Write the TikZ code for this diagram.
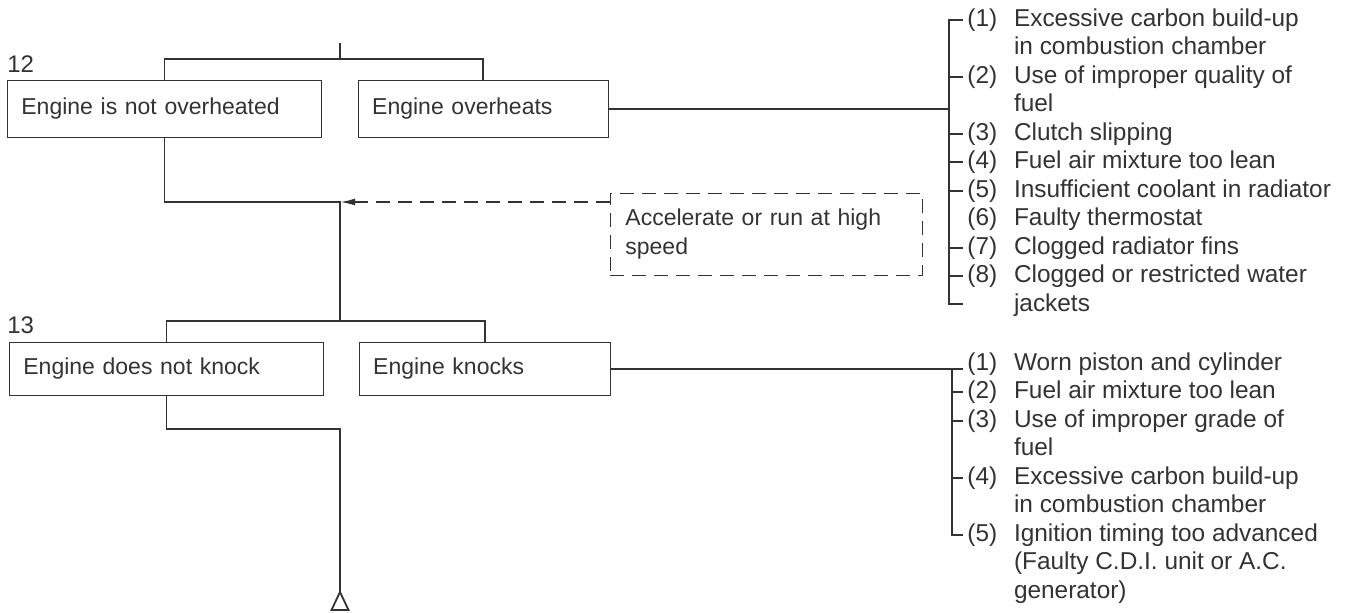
\documentclass[tikz,border=0pt]{standalone}
\usepackage{fontspec}
\setmainfont{Liberation Sans}
\usepackage{tikz}
\usetikzlibrary{arrows.meta, positioning}
\tikzset{
    checkbox/.style={
        rectangle,
        draw,
        align=left,
        inner xsep=7pt,
        inner ysep=0pt,
        minimum height=28.5pt,
        font=\fontsize{11.5pt}{14pt}\selectfont
    },
    actionbox/.style={
        rectangle,
        draw,
        dash pattern=on 7pt off 4pt,
        align=left,
        inner xsep=7.5pt,
        inner ysep=0pt,
        minimum height=41pt,
        font=\fontsize{11.5pt}{14.5pt}\selectfont
    },
    causenum/.style={
        inner sep=2pt,
        anchor=base west,
        font=\fontsize{12.2pt}{14.25pt}\selectfont
    },
    causetext/.style={
        inner sep=2pt,
        align=left,
        font=\fontsize{12.2pt}{14.25pt}\selectfont
    },
    testnum/.style={
        inner sep=0pt,
        anchor=base west,
        font=\fontsize{12pt}{14pt}\selectfont
    },
    checkline/.style={
        line width=0.9pt
    }
}
\begin{document}
\begin{tikzpicture}[x=1pt, y=-1pt, color=black!80]
    \useasboundingbox (0,0) rectangle (674,306);

    % test 12
    \node[testnum] (t12) at (3.5,36) {12};
    \node[checkbox, text width=143pt, anchor=north west] (notover) at (3.5,40) {Engine is not overheated};
    \node[checkbox, text width=111pt, right=18pt of notover] (over) {Engine overheats};
    \node[actionbox, text width=141pt, anchor=north west] (accel) at (305,96.5) {Accelerate or run at high\\speed};

    \coordinate (topin) at (170,21.5);
    \coordinate (fork12) at (170,29.5);
    \coordinate (merge12) at (170,101);

    % test 13
    \node[testnum] (t13) at (3.5,166.5) {13};
    \node[checkbox, text width=143pt, minimum height=26.5pt, anchor=north west] (notknock) at (4.5,171) {Engine does not knock};
    \node[checkbox, text width=111.5pt, minimum height=26.5pt, right=17.5pt of notknock] (knock) {Engine knocks};

    \coordinate (fork13) at (170,160.5);
    \coordinate (merge13) at (170,214.5);
    \coordinate (cont) at (170,296);

    % causes of overheating
    \node[causenum] (oh1) at (481.5,13) {(1)};
    \node[causetext, right=4pt of oh1.north east, anchor=north west] (ohc1) {Excessive carbon build-up\\in combustion chamber};
    \node[causenum] (oh2) at (481.5,41.5) {(2)};
    \node[causetext, right=4pt of oh2.north east, anchor=north west] (ohc2) {Use of improper quality of\\fuel};
    \node[causenum] (oh3) at (481.5,70) {(3)};
    \node[causetext, right=4pt of oh3.north east, anchor=north west] (ohc3) {Clutch slipping};
    \node[causenum] (oh4) at (481.5,84.25) {(4)};
    \node[causetext, right=4pt of oh4.north east, anchor=north west] (ohc4) {Fuel air mixture too lean};
    \node[causenum] (oh5) at (481.5,98.5) {(5)};
    \node[causetext, right=4pt of oh5.north east, anchor=north west] (ohc5) {Insufficient coolant in radiator};
    \node[causenum] (oh6) at (481.5,112.75) {(6)};
    \node[causetext, right=4pt of oh6.north east, anchor=north west] (ohc6) {Faulty thermostat};
    \node[causenum] (oh7) at (481.5,127) {(7)};
    \node[causetext, right=4pt of oh7.north east, anchor=north west] (ohc7) {Clogged radiator fins};
    \node[causenum] (oh8) at (481.5,141.25) {(8)};
    \node[causetext, right=4pt of oh8.north east, anchor=north west] (ohc8) {Clogged or restricted water\\jackets};
    \coordinate (ohend) at (481.5,152);
    \coordinate[right=170pt of over] (ohjoin);

    % causes of knocking
    \node[causenum] (kn1) at (481.5,185) {(1)};
    \node[causetext, right=4pt of kn1.north east, anchor=north west] (knc1) {Worn piston and cylinder};
    \node[causenum] (kn2) at (481.5,199.25) {(2)};
    \node[causetext, right=4pt of kn2.north east, anchor=north west] (knc2) {Fuel air mixture too lean};
    \node[causenum] (kn3) at (481.5,213.5) {(3)};
    \node[causetext, right=4pt of kn3.north east, anchor=north west] (knc3) {Use of improper grade of\\fuel};
    \node[causenum] (kn4) at (481.5,242) {(4)};
    \node[causetext, right=4pt of kn4.north east, anchor=north west] (knc4) {Excessive carbon build-up\\in combustion chamber};
    \node[causenum] (kn5) at (481.5,270.5) {(5)};
    \node[causetext, right=4pt of kn5.north east, anchor=north west] (knc5) {Ignition timing too advanced\\(Faulty C.D.I. unit or A.C.\\generator)};
    \coordinate[right=170.5pt of knock] (knjoin);

    % main line
    \draw[checkline] (topin) -- (fork12);
    \draw[checkline] (notover.north) |- (fork12) -| (over.north);
    \draw[checkline] (notover.south) |- (merge12) -- (fork13);
    \draw[checkline, dash pattern=on 7pt off 4pt, -{Latex[length=7.5pt, width=3.5pt]}] (accel.west |- merge12) -- (merge12);
    \draw[checkline] (notknock.north) |- (fork13) -| (knock.north);
    \draw[checkline] (notknock.south) |- (merge13) -- (cont);
    \draw[checkline] (cont) -- ++(4.25,9) -- ++(-8.5,0) -- cycle;

    % overheating bracket
    \draw[checkline] (over.east) -- (ohjoin);
    \draw[checkline] (oh1.west) -| (ohjoin) |- (ohend);
    \draw[checkline] (oh2.west -| ohjoin) -- (oh2.west);
    \draw[checkline] (oh3.west -| ohjoin) -- (oh3.west);
    \draw[checkline] (oh4.west -| ohjoin) -- (oh4.west);
    \draw[checkline] (oh5.west -| ohjoin) -- (oh5.west);
    \draw[checkline] (oh7.west -| ohjoin) -- (oh7.west);
    \draw[checkline] (oh8.west -| ohjoin) -- (oh8.west);

    % knocking bracket
    \draw[checkline] (knock.east) -- (knock.east -| kn1.west);
    \draw[checkline] (knjoin) |- (kn5.west);
    \draw[checkline] (kn2.west -| knjoin) -- (kn2.west);
    \draw[checkline] (kn3.west -| knjoin) -- (kn3.west);
    \draw[checkline] (kn4.west -| knjoin) -- (kn4.west);
\end{tikzpicture}
\end{document}
